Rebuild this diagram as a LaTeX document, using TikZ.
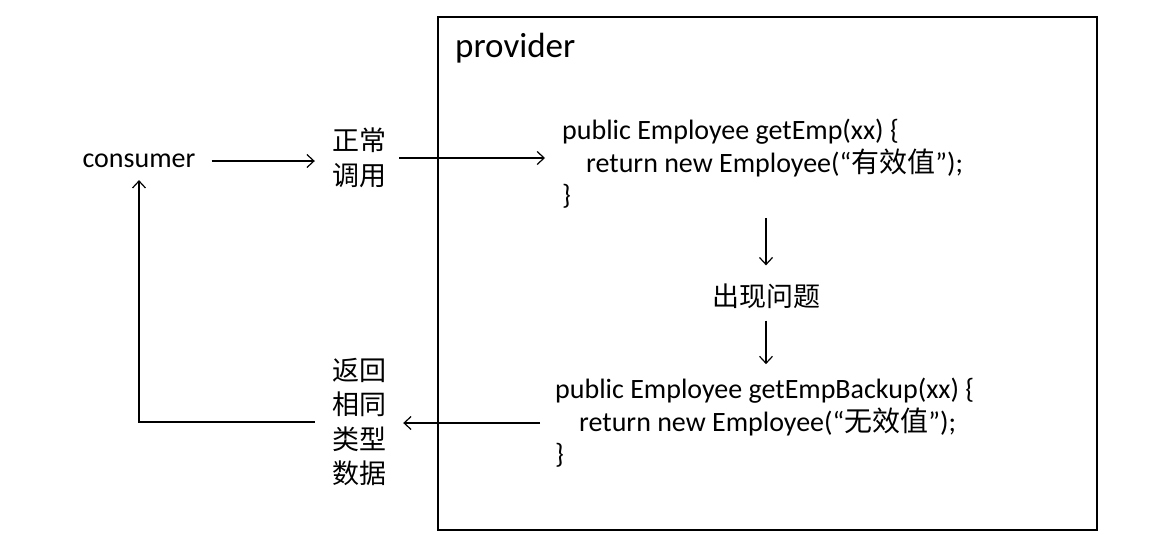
\documentclass[tikz,border=0pt]{standalone}
\usepackage{fontspec}
\setmainfont{Carlito}
\newfontfamily\cjk{Noto Sans CJK SC}
\usetikzlibrary{arrows.meta}
\begin{document}
\begin{tikzpicture}[x=1pt,y=-1pt,
  txt/.style={inner sep=0pt, font=\fontsize{28}{32}\selectfont},
  cjktxt/.style={inner sep=0pt, align=center, font=\fontsize{27}{34.5}\selectfont\cjk},
  code/.style={inner sep=0pt, align=left, anchor=west, font=\fontsize{28}{32.5}\selectfont},
  frame/.style={draw, line width=1.4pt, minimum width=659pt, minimum height=513pt, inner sep=0pt},
  arr/.style={line width=1.2pt, -{Straight Barb[length=7pt,width=13pt,line width=1.2pt]}}
]
\useasboundingbox (0,0) rectangle (1162,555);
\node[frame] (prov) at (767.5,273.5) {};
\node[inner sep=0pt, anchor=north west, font=\fontsize{35}{40}\selectfont] (provlbl) at (455,33) {provider};
\node[txt] (cons) at (139,161) {consumer};
\node[cjktxt] (zc) at (359,158) {正常\\调用};
\node[code] (code1) at (562,164) {public Employee getEmp(xx) \{\\\hspace*{24pt}return new Employee(“{\cjk 有效值}”);\\\}};
\node[cjktxt] (pb) at (766,296) {出现问题};
\node[code] (code2) at (555,423) {public Employee getEmpBackup(xx) \{\\\hspace*{24pt}return new Employee(“{\cjk 无效值}”);\\\}};
\node[cjktxt] (fh) at (359,422) {返回\\相同\\类型\\数据};

\draw[arr, shorten <=16pt, shorten >=17pt] (cons.east) -- (cons.east -| zc.west);
\draw[arr, shorten <=13pt, shorten >=17pt] (zc.east) -- (zc.east -| code1.west);
\draw[arr, shorten <=9pt, shorten >=18pt] (code1.south -| pb.north) -- (pb.north);
\draw[arr, shorten <=12pt, shorten >=14pt] (pb.south) -- (pb.south |- code2.north);
\draw[arr, shorten <=15pt, shorten >=17pt] (code2.west) -- (code2.west -| fh.east);
\draw[arr, shorten <=17pt, shorten >=12pt] (fh.west) -| (cons.south);
\end{tikzpicture}
\end{document}
